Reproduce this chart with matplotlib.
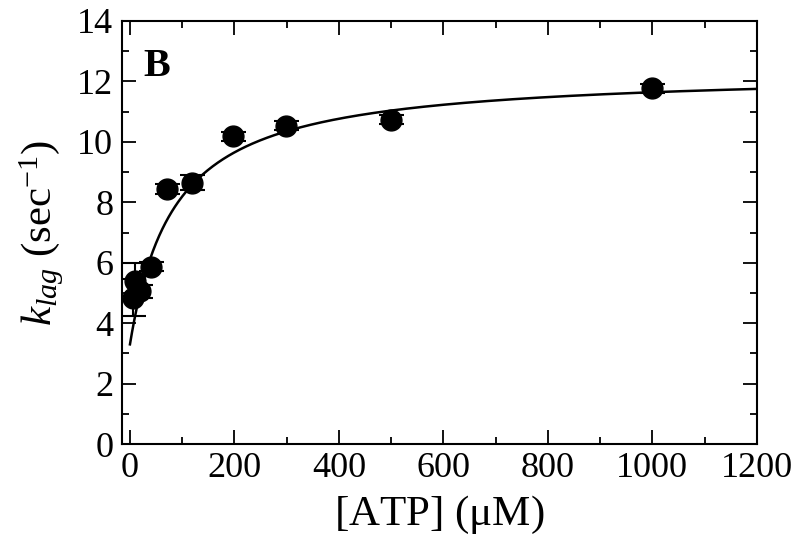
import numpy as np
import matplotlib.pyplot as plt
from matplotlib.ticker import MultipleLocator

plt.rcParams['font.family'] = ['Liberation Serif', 'DejaVu Serif']
plt.rcParams['mathtext.fontset'] = 'custom'
plt.rcParams['mathtext.rm'] = 'Liberation Serif'
plt.rcParams['mathtext.it'] = 'Liberation Serif:italic'

# donnees
atp = [5, 10, 20, 40, 70, 118, 198, 299, 499, 1000]
k_lag = [4.85, 5.4, 5.05, 5.87, 8.44, 8.65, 10.18, 10.53, 10.73, 11.78]
k_err = [0.6, 0.6, 0.2, 0.15, 0.15, 0.25, 0.15, 0.15, 0.15, 0.15]

# parametres de l'ajustement hyperbolique
y0 = 3.3
amp = 9.05
K = 85.0

fig = plt.figure(figsize=(8, 5.51), dpi=100)
ax = fig.add_axes([0.152, 0.194, 0.794, 0.768])

x_fit = np.linspace(0, 1200, 600)
ax.plot(x_fit, y0 + amp * x_fit / (K + x_fit), color='black', lw=1.8)

ax.errorbar(atp, k_lag, yerr=k_err, fmt='o', color='black', ms=15,
            capsize=9, capthick=1.5, elinewidth=1.5)

ax.set_xlim(-16, 1200)
ax.set_ylim(0, 14)
ax.xaxis.set_major_locator(MultipleLocator(200))
ax.xaxis.set_minor_locator(MultipleLocator(100))
ax.yaxis.set_major_locator(MultipleLocator(2))
ax.yaxis.set_minor_locator(MultipleLocator(1))
ax.tick_params(which='both', direction='in', top=True, right=True, width=1.3)
ax.tick_params(which='major', length=10, labelsize=26, pad=6)
ax.tick_params(which='minor', length=5)
for s in ax.spines.values():
    s.set_linewidth(1.5)

ax.set_xlabel(r'[ATP] ($\mathrm{\mu}$M)', fontsize=31, labelpad=6)
ax.set_ylabel(r'$k_{lag}$ (sec$^{-1}$)', fontsize=31, labelpad=8)
ax.text(0.035, 0.935, 'B', transform=ax.transAxes, fontsize=29,
        fontweight='bold', va='top', ha='left')

fig.savefig('out.png', dpi=100)
